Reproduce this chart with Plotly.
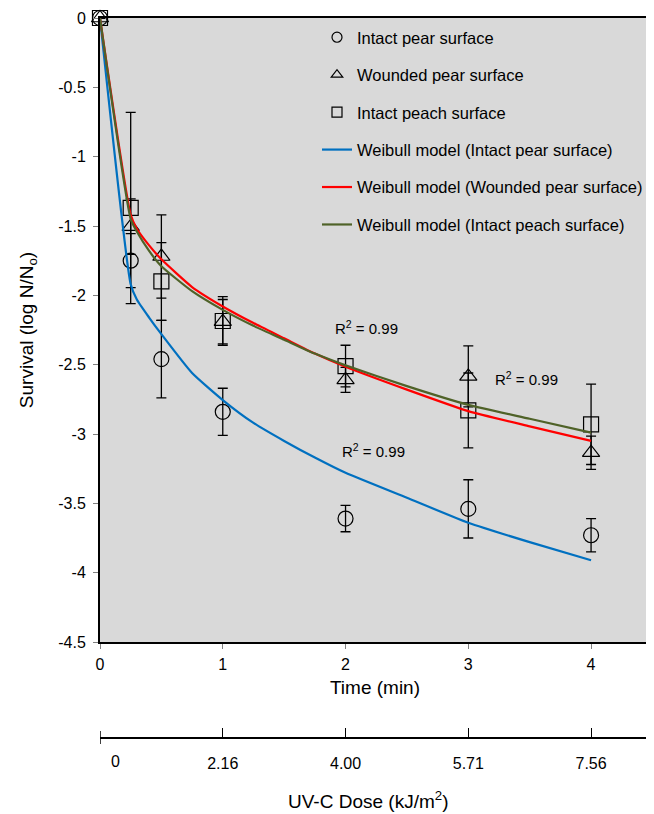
import plotly.graph_objects as go

# ---- data ----
time_min = [0, 0.25, 0.5, 1, 2, 3, 4]
pear_intact = [0, -1.75, -2.46, -2.84, -3.61, -3.54, -3.73]
pear_intact_err = [0, 0.195, 0.28, 0.17, 0.095, 0.21, 0.12]
pear_wounded = [0, -1.505, -1.72, -2.19, -2.61, -2.585, -3.135]
pear_wounded_err = [0, 0.20, 0.30, 0.16, 0.09, 0.22, 0.12]
peach_intact = [0, -1.37, -1.90, -2.185, -2.51, -2.83, -2.93]
peach_intact_err = [0, 0.69, 0.28, 0.175, 0.15, 0.27, 0.29]

model_t = [0, 0.25, 0.3, 0.4, 0.5, 0.75, 1, 1.25, 1.5, 1.75, 2, 2.5, 3, 3.5, 4]
weibull_pear_intact = [0, -1.92, -2.03, -2.16, -2.28, -2.56, -2.755, -2.92, -3.05, -3.17,
                       -3.28, -3.46, -3.64, -3.78, -3.91]
weibull_pear_wounded = [0, -1.42, -1.52, -1.64, -1.74, -1.94, -2.08, -2.20, -2.31, -2.42,
                        -2.515, -2.68, -2.835, -2.945, -3.05]
weibull_peach_intact = [0, -1.45, -1.54, -1.68, -1.79, -1.97, -2.105, -2.22, -2.32, -2.42,
                        -2.505, -2.655, -2.79, -2.89, -2.99]

y_ticks = [0, -0.5, -1, -1.5, -2, -2.5, -3, -3.5, -4, -4.5]
y_tick_labels = ["0", "-0.5", "-1", "-1.5", "-2", "-2.5", "-3", "-3.5", "-4", "-4.5"]
x_ticks = [0, 1, 2, 3, 4]
dose_ticks = [1, 2, 3, 4]
dose_labels = ["2.16", "4.00", "5.71", "7.56"]

legend_names = ["Intact pear surface", "Wounded pear surface", "Intact peach surface",
                "Weibull model (Intact pear surface)", "Weibull model (Wounded pear surface)",
                "Weibull model (Intact peach surface)"]

FONT = "Liberation Sans, Arial, Helvetica, sans-serif"
BLUE = "#0070C0"
RED = "#FF0000"
GREEN = "#4F6228"

fig = go.Figure()

obs = [(pear_intact, pear_intact_err, "circle-open"),
       (pear_wounded, pear_wounded_err, "triangle-up-open"),
       (peach_intact, peach_intact_err, "square-open")]
for vals, err, sym in obs:
    fig.add_trace(go.Scatter(
        x=time_min, y=vals, mode="markers", showlegend=False, cliponaxis=False,
        marker=dict(symbol=sym, size=15, color="black", line=dict(width=1.2, color="black")),
        error_y=dict(type="data", array=err, visible=True, color="black", thickness=1.3, width=5),
    ))

models = [(weibull_pear_intact, BLUE), (weibull_pear_wounded, RED), (weibull_peach_intact, GREEN)]
for vals, col in models:
    fig.add_trace(go.Scatter(x=model_t, y=vals, mode="lines", showlegend=False,
                             line=dict(color=col, width=2.2, shape="spline", smoothing=0.5)))

# legend entries
for i, (name, sym) in enumerate(zip(legend_names[:3], ["circle-open", "triangle-up-open", "square-open"])):
    fig.add_trace(go.Scatter(x=[None], y=[None], mode="markers", name=name, legendgroup=str(i),
                             marker=dict(symbol=sym, size=10, color="black", line=dict(width=1.2))))
for i, (name, col) in enumerate(zip(legend_names[3:], [BLUE, RED, GREEN])):
    fig.add_trace(go.Scatter(x=[None], y=[None], mode="lines", name=name, legendgroup=str(i + 3),
                             line=dict(color=col, width=2.2)))

# dummy trace for second (dose) axis
fig.add_trace(go.Scatter(x=[None], y=[None], xaxis="x2", showlegend=False, hoverinfo="skip"))

# page body has an 8px margin: figure pixel = screen pixel - 8
OFF = 8
FIG_W, FIG_H = 654 - OFF, 814 - OFF
M_L, M_R, M_T, M_B = 100 - OFF, FIG_W - (650 - OFF), 18 - OFF, 30
PAPER_H = FIG_H - M_T - M_B
PAPER_W = FIG_W - M_L - M_R


def py(screen_y):
    return (FIG_H - M_B - (screen_y - OFF)) / PAPER_H


def px(screen_x):
    return ((screen_x - OFF) - M_L) / PAPER_W


fig.update_layout(
    width=FIG_W, height=FIG_H,
    margin=dict(l=M_L, r=M_R, t=M_T, b=M_B, autoexpand=False),
    paper_bgcolor="white", plot_bgcolor="#D9D9D9",
    font=dict(family=FONT, size=16, color="black"),
    showlegend=True,
    legend=dict(x=px(317), y=py(20), xanchor="left", yanchor="top", bgcolor="rgba(0,0,0,0)",
                font=dict(size=16.5), tracegroupgap=13, traceorder="grouped"),
    xaxis=dict(range=[0, 4.48], tickvals=x_ticks, showgrid=False, zeroline=False, automargin=False,
               showline=True, linecolor="black", linewidth=2, mirror=True,
               ticks="outside", ticklen=5, tickcolor="#808080", tickwidth=1,
               tickfont=dict(size=16), ticklabelstandoff=2,
               title=dict(text="Time (min)", font=dict(size=19), standoff=8)),
    yaxis=dict(range=[-4.5, 0], tickvals=y_ticks, ticktext=y_tick_labels, domain=[py(642), 1],
               showgrid=False, zeroline=False, automargin=False,
               showline=True, linecolor="black", linewidth=2, mirror=True,
               ticks="outside", ticklen=5, tickcolor="#808080", tickwidth=1,
               tickfont=dict(size=16), ticklabelstandoff=4,
               title=dict(text="Survival (log N/N<sub>o</sub>)", font=dict(size=19), standoff=20)),
    xaxis2=dict(range=[0, 4.48], overlaying="x", anchor="free", position=py(737.5), side="bottom",
                tickvals=dose_ticks, ticktext=dose_labels, showgrid=False, zeroline=False,
                automargin=False, showline=True, linecolor="black", linewidth=1.5,
                ticks="inside", ticklen=9, tickcolor="black", tickwidth=1.2,
                tickfont=dict(size=16), ticklabelstandoff=12),
)

fig.add_shape(type="line", xref="x", yref="paper", x0=0, x1=0, y0=py(744), y1=py(731),
              line=dict(color="black", width=1.5))

annotations = [
    dict(x=0.13, y=py(761), xref="x", yref="paper", text="0", showarrow=False,
         font=dict(size=16), yanchor="middle"),
    dict(x=px(368), y=py(800), xref="paper", yref="paper", text="UV-C Dose (kJ/m<sup>2</sup>)",
         showarrow=False, font=dict(size=19), yanchor="middle"),
    dict(x=2.17, y=-2.23, xref="x", yref="y", text="R<sup>2</sup> = 0.99", showarrow=False,
         font=dict(size=15)),
    dict(x=3.47, y=-2.60, xref="x", yref="y", text="R<sup>2</sup> = 0.99", showarrow=False,
         font=dict(size=15)),
    dict(x=2.23, y=-3.12, xref="x", yref="y", text="R<sup>2</sup> = 0.99", showarrow=False,
         font=dict(size=15)),
]
fig.update_layout(annotations=annotations)

fig.write_html("out.html")
